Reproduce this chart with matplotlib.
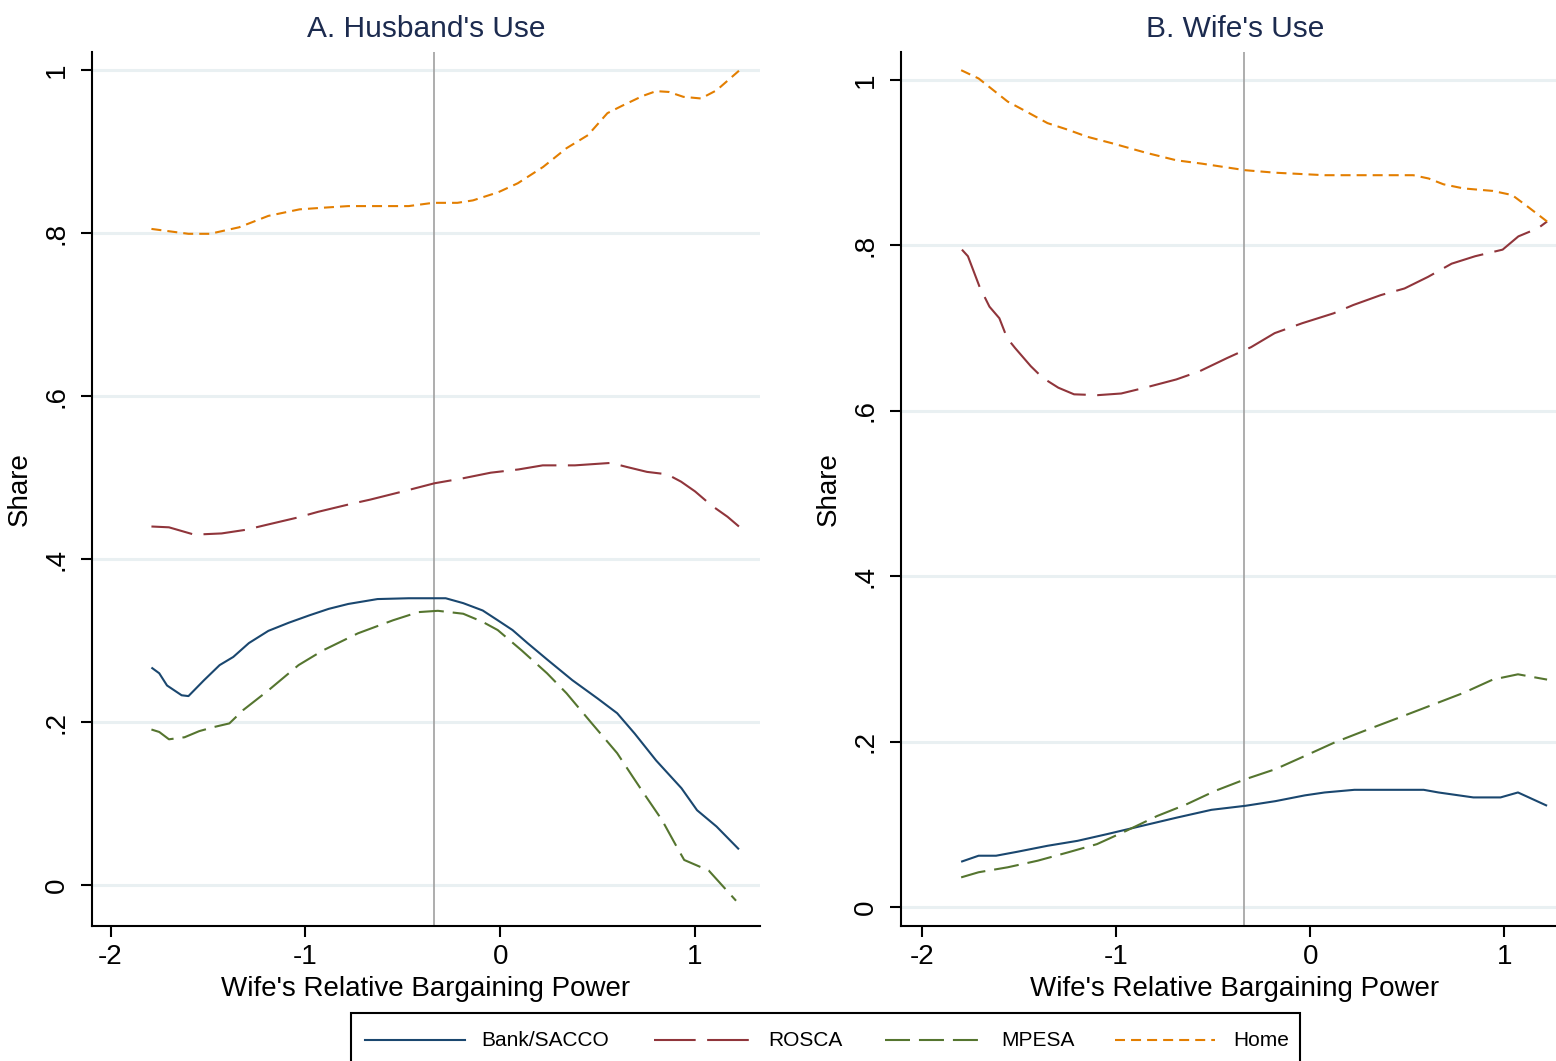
"""Lowess shares of savings use by wife's relative bargaining power."""
import matplotlib

matplotlib.use("Agg")
import matplotlib.pyplot as plt
from matplotlib.lines import Line2D
from matplotlib.patches import Rectangle

FONT = ["Liberation Sans", "DejaVu Sans"]
plt.rcParams["font.family"] = FONT

W_PX, H_PX = 1556, 1061

C_BANK = "#1a476f"
C_ROSCA = "#90353b"
C_MPESA = "#55752f"
C_HOME = "#e37e00"
C_TITLE = "#1c2b4f"
C_GRID = "#e9f0f2"
C_VLINE = "#a0a0a0"

LS_BANK = "-"
LS_ROSCA = (0, (20, 5.5))
LS_MPESA = (0, (12, 4.3))
LS_HOME = (0, (4.8, 2.9))

CUTOFF = -0.34

# ── Panel A: husband's use ────────────────────────────────────────────────────
A_BANK_X = [-1.79, -1.75, -1.71, -1.635, -1.60, -1.52, -1.44, -1.37, -1.29,
            -1.19, -1.085, -0.98, -0.88, -0.78, -0.63, -0.47, -0.28, -0.19,
            -0.09, -0.013, 0.063, 0.14, 0.24, 0.37, 0.50, 0.60, 0.69, 0.80,
            0.93, 1.01, 1.11, 1.225]
A_BANK_Y = [0.267, 0.260, 0.245, 0.233, 0.232, 0.2515, 0.270, 0.280, 0.297,
            0.312, 0.322, 0.331, 0.339, 0.345, 0.351, 0.352, 0.352, 0.346,
            0.337, 0.325, 0.313, 0.297, 0.277, 0.2515, 0.229, 0.211, 0.186,
            0.153, 0.119, 0.092, 0.072, 0.044]

A_ROSCA_X = [-1.79, -1.70, -1.57, -1.43, -1.305, -1.20, -1.04, -0.935, -0.77,
             -0.667, -0.483, -0.338, -0.194, -0.049, 0.094, 0.218, 0.383,
             0.568, 0.65, 0.753, 0.857, 0.928, 1.00, 1.083, 1.166, 1.225]
A_ROSCA_Y = [0.440, 0.439, 0.430, 0.4315, 0.436, 0.442, 0.451, 0.458, 0.4675,
             0.473, 0.484, 0.493, 0.499, 0.506, 0.510, 0.515, 0.515, 0.518,
             0.513, 0.507, 0.504, 0.495, 0.483, 0.466, 0.452, 0.440]

A_MPESA_X = [-1.79, -1.75, -1.70, -1.62, -1.545, -1.47, -1.39, -1.32, -1.19,
             -1.035, -0.91, -0.73, -0.55, -0.42, -0.32, -0.19, -0.09, -0.013,
             0.11, 0.24, 0.34, 0.47, 0.60, 0.68, 0.75, 0.83, 0.906, 0.944,
             1.07, 1.21]
A_MPESA_Y = [0.191, 0.188, 0.179, 0.1815, 0.189, 0.194, 0.1985, 0.2147, 0.239,
             0.270, 0.288, 0.309, 0.325, 0.335, 0.3366, 0.333, 0.323, 0.313,
             0.288, 0.260, 0.2355, 0.1985, 0.162, 0.133, 0.108, 0.080, 0.047,
             0.031, 0.018, -0.019]

A_HOME_X = [-1.79, -1.60, -1.49, -1.34, -1.19, -1.03, -0.91, -0.78, -0.47,
            -0.345, -0.22, -0.14, -0.01, 0.09, 0.22, 0.34, 0.45, 0.55, 0.625,
            0.73, 0.80, 0.865, 0.94, 1.03, 1.11, 1.225]
A_HOME_Y = [0.805, 0.799, 0.799, 0.807, 0.821, 0.829, 0.831, 0.833, 0.833,
            0.837, 0.837, 0.840, 0.850, 0.861, 0.881, 0.904, 0.920, 0.947,
            0.956, 0.968, 0.974, 0.973, 0.967, 0.965, 0.975, 0.999]

# ── Panel B: wife's use ───────────────────────────────────────────────────────
B_BANK_X = [-1.80, -1.71, -1.62, -1.51, -1.355, -1.20, -1.05, -0.87, -0.69,
            -0.51, -0.334, -0.18, -0.028, 0.074, 0.227, 0.405, 0.584, 0.66,
            0.84, 0.98, 1.07, 1.22]
B_BANK_Y = [0.0547, 0.062, 0.062, 0.0668, 0.074, 0.080, 0.088, 0.098, 0.108,
            0.1175, 0.1224, 0.128, 0.135, 0.1385, 0.1417, 0.1417, 0.1417,
            0.1385, 0.1325, 0.1325, 0.1385, 0.1224]

B_ROSCA_X = [-1.796, -1.765, -1.705, -1.654, -1.603, -1.563, -1.522, -1.441,
             -1.380, -1.299, -1.218, -1.096, -0.975, -0.853, -0.691, -0.570,
             -0.428, -0.306, -0.184, -0.042, 0.120, 0.221, 0.363, 0.485,
             0.606, 0.728, 0.849, 0.991, 1.072, 1.174, 1.22]
B_ROSCA_Y = [0.795, 0.787, 0.750, 0.726, 0.712, 0.688, 0.676, 0.654, 0.640,
             0.628, 0.620, 0.619, 0.621, 0.628, 0.638, 0.648, 0.664, 0.677,
             0.694, 0.706, 0.718, 0.728, 0.740, 0.748, 0.762, 0.778, 0.787,
             0.795, 0.811, 0.821, 0.829]

B_MPESA_X = [-1.80, -1.71, -1.56, -1.405, -1.25, -1.10, -0.95, -0.79, -0.64,
             -0.49, -0.334, -0.18, -0.028, 0.125, 0.30, 0.457, 0.635, 0.79,
             0.94, 1.07, 1.22]
B_MPESA_Y = [0.0358, 0.042, 0.048, 0.056, 0.066, 0.076, 0.092, 0.110, 0.124,
             0.1405, 0.1546, 0.1667, 0.1827, 0.199, 0.215, 0.229, 0.245, 0.259,
             0.275, 0.2814, 0.275]

B_HOME_X = [-1.80, -1.71, -1.635, -1.56, -1.48, -1.355, -1.25, -1.15, -1.02,
            -0.845, -0.69, -0.56, -0.436, -0.334, -0.18, 0.074, 0.33, 0.53,
            0.61, 0.686, 0.79, 0.94, 1.04, 1.12, 1.22]
B_HOME_Y = [1.012, 1.002, 0.988, 0.974, 0.964, 0.948, 0.940, 0.9315, 0.9235,
            0.912, 0.903, 0.899, 0.8946, 0.891, 0.888, 0.885, 0.885, 0.885,
            0.881, 0.874, 0.869, 0.866, 0.861, 0.847, 0.829]

Y_TICKS = [0, 0.2, 0.4, 0.6, 0.8, 1]
Y_TICKLABELS = ["0", ".2", ".4", ".6", ".8", "1"]
X_TICKS = [-2, -1, 0, 1]
X_TICKLABELS = ["-2", "-1", "0", "1"]

SERIES = [
    ("Bank/SACCO", C_BANK, LS_BANK),
    ("ROSCA", C_ROSCA, LS_ROSCA),
    ("MPESA", C_MPESA, LS_MPESA),
    ("Home", C_HOME, LS_HOME),
]


def _fx(px: float) -> float:
    return px / W_PX


def _fy(py: float) -> float:
    return 1 - py / H_PX


def _panel(ax, title, xs, ys, ylim, xlim):
    for (label, color, ls), x, y in zip(SERIES, xs, ys):
        ax.plot(x, y, color=color, linestyle=ls, lw=1.5, label=label,
                zorder=3, solid_capstyle="butt", dash_capstyle="butt")
    ax.axvline(CUTOFF, color=C_VLINE, lw=1.2, zorder=2)

    ax.set_xlim(*xlim)
    ax.set_ylim(*ylim)
    ax.set_yticks(Y_TICKS)
    ax.set_yticklabels(Y_TICKLABELS, rotation=90, va="center")
    ax.set_xticks(X_TICKS)
    ax.set_xticklabels(X_TICKLABELS)
    ax.yaxis.grid(True, color=C_GRID, lw=2.2)
    ax.set_axisbelow(True)

    for side in ("top", "right"):
        ax.spines[side].set_visible(False)
    for side in ("left", "bottom"):
        ax.spines[side].set_linewidth(1.5)
    ax.tick_params(axis="both", length=8, width=1.5, labelsize=20,
                   direction="out")
    ax.tick_params(axis="y", pad=8)
    ax.tick_params(axis="x", pad=5)

    ax.set_ylabel("Share", fontsize=20, labelpad=8)
    ax.set_xlabel("Wife's Relative Bargaining Power", fontsize=20,
                  labelpad=4)
    ax.set_title(title, fontsize=21.5, color=C_TITLE, pad=11)


def main() -> None:
    fig = plt.figure(figsize=(W_PX / 100, H_PX / 100), dpi=100)
    fig.patch.set_facecolor("white")

    ax_a = fig.add_axes([_fx(92), _fy(926), _fx(668), 874 / H_PX])
    ax_b = fig.add_axes([_fx(901), _fy(926), _fx(668), 874 / H_PX])

    _panel(ax_a, "A. Husband's Use",
           [A_BANK_X, A_ROSCA_X, A_MPESA_X, A_HOME_X],
           [A_BANK_Y, A_ROSCA_Y, A_MPESA_Y, A_HOME_Y],
           (-0.05, 1.022), (-2.095, 1.333))
    _panel(ax_b, "B. Wife's Use",
           [B_BANK_X, B_ROSCA_X, B_MPESA_X, B_HOME_X],
           [B_BANK_Y, B_ROSCA_Y, B_MPESA_Y, B_HOME_Y],
           (-0.023, 1.034), (-2.11, 1.333))

    # ── Legend box (bottom, cut by the image edge) ───────────────────────────
    fig.add_artist(Rectangle(
        (_fx(351), _fy(1070)), _fx(1300 - 351), (1070 - 1013) / H_PX,
        transform=fig.transFigure, facecolor="white", edgecolor="black",
        lw=1.5,
    ))
    key_starts = [365, 654, 885, 1115]
    text_starts = [481, 768, 1001, 1233]
    ly = _fy(1040)
    for (label, color, ls), kx, tx in zip(SERIES, key_starts, text_starts):
        fig.add_artist(Line2D([_fx(kx), _fx(kx + 100)], [ly, ly],
                              transform=fig.transFigure, color=color,
                              linestyle=ls, lw=1.5))
        fig.text(_fx(tx), ly, label, fontsize=15, va="center", ha="left")

    fig.savefig("out.png", dpi=100)


if __name__ == "__main__":
    main()
